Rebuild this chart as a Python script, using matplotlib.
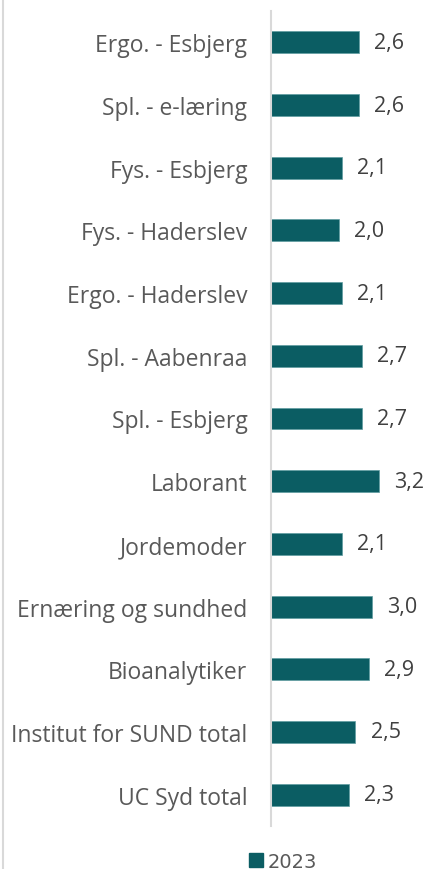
import matplotlib.pyplot as plt
from matplotlib.lines import Line2D
from matplotlib.patches import Patch

plt.rcParams['font.family'] = ['Open Sans', 'DejaVu Sans']

labels = ['Ergo. - Esbjerg', 'Spl. - e-læring', 'Fys. - Esbjerg', 'Fys. - Haderslev',
          'Ergo. - Haderslev', 'Spl. - Aabenraa', 'Spl. - Esbjerg', 'Laborant',
          'Jordemoder', 'Ernæring og sundhed', 'Bioanalytiker',
          'Institut for SUND total', 'UC Syd total']
values_2023 = [2.6, 2.6, 2.1, 2.0, 2.1, 2.7, 2.7, 3.2, 2.1, 3.0, 2.9, 2.5, 2.3]

bar_color = '#0b5d63'

fig = plt.figure(figsize=(4.29, 8.70), dpi=100)
ax = fig.add_axes([271 / 429, 43 / 870, 135 / 429, 815 / 870])

y = list(range(len(labels)))
ax.barh(y, values_2023, height=0.35, color=bar_color, edgecolor='#5f9da1', linewidth=0.5)
for yi, v in zip(y, values_2023):
    ax.text(v + 0.45, yi, f'{v:.1f}'.replace('.', ','), va='center', ha='left',
            fontsize=15.5, color='#404040')

ax.set_xlim(0, 4)
ax.set_ylim(len(labels) - 0.5, -0.5)
ax.set_yticks(y)
ax.set_yticklabels(labels, fontsize=16.5, color='#595959')
ax.tick_params(axis='y', length=0, pad=17)
ax.set_xticks([])
for s in ['top', 'right', 'bottom']:
    ax.spines[s].set_visible(False)
ax.spines['left'].set_color('#d9d9d9')
ax.spines['left'].set_linewidth(1.5)

# left frame line of the chart area
fig.add_artist(Line2D([3 / 429, 3 / 429], [0, 1], color='#d9d9d9', linewidth=1.5))

fig.legend(handles=[Patch(color=bar_color, label='2023')], loc='lower center',
           bbox_to_anchor=(0.66, -0.022), frameon=False, handlelength=0.7,
           handleheight=0.7, handletextpad=0.25,
           prop={'family': 'DejaVu Sans', 'size': 14}, labelcolor='#595959')

fig.savefig('out.png', dpi=100)
